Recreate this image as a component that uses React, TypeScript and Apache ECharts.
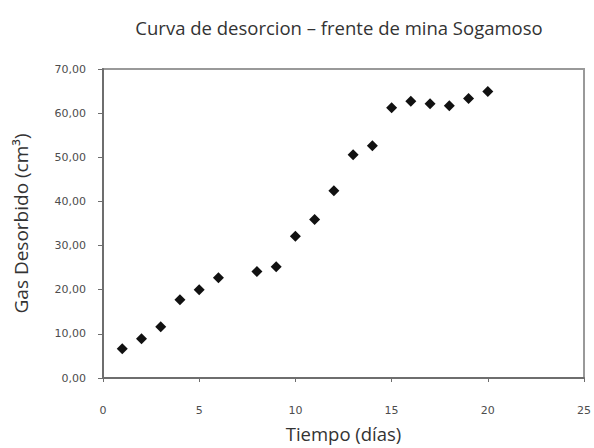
import React, { useEffect, useRef } from "react";
import * as echarts from "echarts";

const days = [1, 2, 3, 4, 5, 6, 8, 9, 10, 11, 12, 13, 14, 15, 16, 17, 18, 19, 20];
const gas = [6.6, 8.9, 11.6, 17.7, 20.0, 22.7, 24.1, 25.2, 32.1, 35.9, 42.4, 50.6, 52.6, 61.2, 62.7, 62.1, 61.7, 63.3, 64.9];
const titleText = "Curva de desorcion \u2013 frente de mina Sogamoso";
const xName = "Tiempo (días)";
const yName = "Gas Desorbido (cm³)";

export default function App() {
  const ref = useRef<HTMLDivElement>(null);
  useEffect(() => {
    if (!ref.current) return;
    const chart = echarts.init(ref.current, undefined, { renderer: "svg" });
    chart.setOption({
      animation: false,
      backgroundColor: "#ffffff",
      title: {
        text: titleText,
        left: 334,
        textAlign: "center",
        top: 13,
        textStyle: { fontFamily: "Open Sans", fontSize: 18.5, fontWeight: "normal", color: "#333" },
      },
      grid: {
        left: 103,
        right: 7,
        top: 69,
        bottom: 65,
        show: true,
        borderColor: "#999",
        borderWidth: 2,
        backgroundColor: "transparent",
      },
      xAxis: {
        type: "value",
        min: 0,
        max: 25,
        interval: 5,
        name: xName,
        nameLocation: "middle",
        nameGap: 46,
        nameTextStyle: { fontFamily: "Open Sans", fontSize: 18.5, color: "#333" },
        axisLine: { show: true, lineStyle: { color: "#6e6e6e", width: 2 } },
        axisTick: { show: true, length: 4, lineStyle: { color: "#6e6e6e" } },
        axisLabel: { fontFamily: "DejaVu Sans", fontSize: 11, color: "#4d4d4d", margin: 27 },
        splitLine: { show: false },
      },
      yAxis: {
        type: "value",
        min: 0,
        max: 70,
        interval: 10,
        name: yName,
        nameLocation: "middle",
        nameGap: 73,
        nameTextStyle: { fontFamily: "Open Sans", fontSize: 19, color: "#333" },
        axisLine: { show: true, lineStyle: { color: "#6e6e6e", width: 2 } },
        axisTick: { show: true, length: 5, lineStyle: { color: "#6e6e6e" } },
        axisLabel: {
          fontFamily: "DejaVu Sans",
          fontSize: 11,
          color: "#4d4d4d",
          margin: 17,
          formatter: (v: number) => v.toFixed(2).replace(".", ","),
        },
        splitLine: { show: false },
      },
      series: [
        {
          type: "scatter",
          symbol: "diamond",
          symbolSize: 11,
          itemStyle: { color: "#111", opacity: 1 },
          data: days.map((d, i) => [d, gas[i]]),
        },
      ],
    });
    return () => chart.dispose();
  }, []);
  return <div ref={ref} style={{ width: 594, height: 448, position: "absolute", left: 0, top: 0 }} />;
}
